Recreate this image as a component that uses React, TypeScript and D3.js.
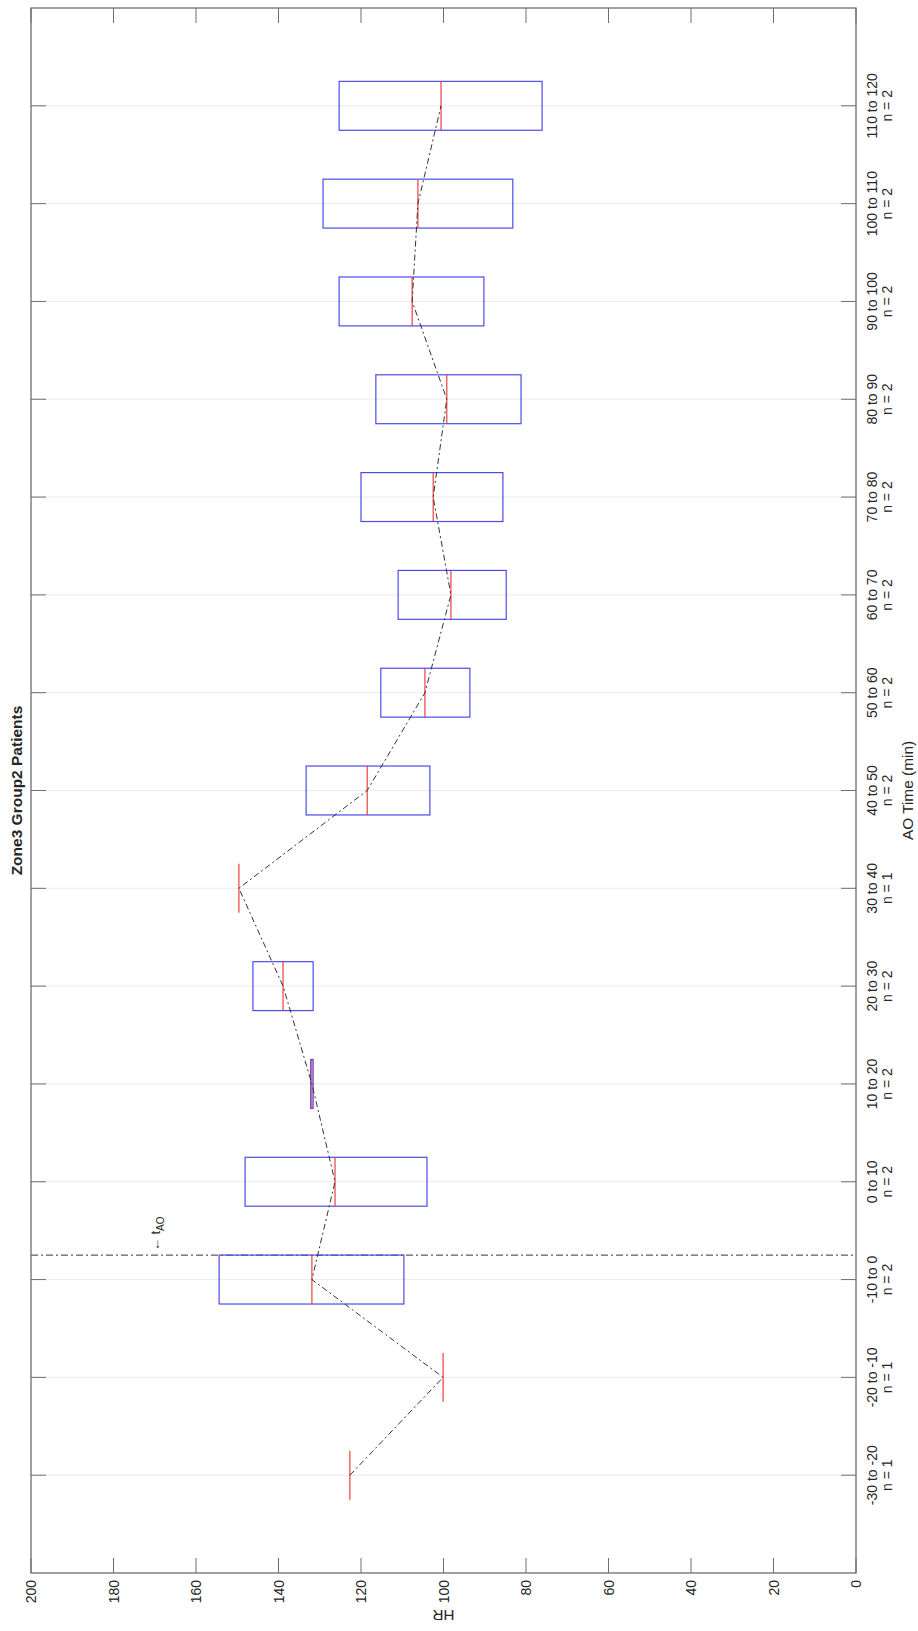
import React from "react";
import * as d3 from "d3";

// AO time bins (minutes) and sample counts
const categories = ["-30 to -20", "-20 to -10", "-10 to 0", "0 to 10", "10 to 20", "20 to 30", "30 to 40", "40 to 50", "50 to 60", "60 to 70", "70 to 80", "80 to 90", "90 to 100", "100 to 110", "110 to 120"];
const counts = [1, 1, 2, 2, 2, 2, 1, 2, 2, 2, 2, 2, 2, 2, 2];

// HR per bin: median and box edges (null where n = 1)
const medians = [122.7, 100.1, 131.9, 126.3, 131.9, 138.9, 149.6, 118.5, 104.5, 98.2, 102.5, 99.2, 107.6, 106.2, 100.6];
const q1 = [null, null, 109.6, 104.0, 131.6, 131.6, null, 103.3, 93.6, 84.8, 85.6, 81.2, 90.2, 83.2, 76.1];
const q3 = [null, null, 154.4, 148.1, 132.2, 146.2, null, 133.3, 115.2, 111.0, 120.0, 116.4, 125.3, 129.2, 125.3];

const hrTicks = [0, 20, 40, 60, 80, 100, 120, 140, 160, 180, 200];
const aoPosition = 3.25;
const aoLabelHR = 170;

const App = () => {
    // the figure is drawn upright, then turned a quarter turn to the left
    const W = 1631;
    const H = 918;
    const left = 58, right = 1623, top = 31, bottom = 856;

    const x = d3.scaleLinear().domain([0, 16]).range([left, right]);
    const y = d3.scaleLinear().domain([0, 200]).range([bottom, top]);
    const half = 0.25;
    const tickLen = 15;

    const line = d3.line<number>()
        .x((d, i) => x(i + 1))
        .y(d => y(d));

    const font = "'Liberation Sans', Arial, sans-serif";
    const textColor = "#262626";
    const axisColor = "#6e6e6e";

    return (
        <svg
            width={H}
            height={W}
            style={{ position: "absolute", left: 0, top: 0, background: "#fff" }}
            fontFamily={font}
        >
            <g transform={`translate(0, ${W}) rotate(-90)`}>
                {/* grid lines at each bin */}
                {categories.map((c, i) => (
                    <line key={"g" + i} x1={x(i + 1)} x2={x(i + 1)} y1={top} y2={bottom}
                        stroke="#ebebeb" strokeWidth={1} />
                ))}

                {/* AO marker */}
                <line x1={x(aoPosition)} x2={x(aoPosition)} y1={top} y2={bottom}
                    stroke="#333" strokeWidth={1} strokeDasharray="7,3,2,3" />
                <text x={x(aoPosition) + 4} y={y(aoLabelHR) + 5} fontSize={13} fill={textColor}>
                    ← t<tspan fontSize={10} dy={4}>AO</tspan>
                </text>

                {/* boxes */}
                {categories.map((c, i) => {
                    const lo = q1[i], hi = q3[i];
                    if (lo == null || hi == null) return null;
                    return (
                        <rect key={"b" + i}
                            x={x(i + 1 - half)} width={x(i + 1 + half) - x(i + 1 - half)}
                            y={y(hi)} height={Math.max(y(lo) - y(hi), 1)}
                            fill="none" stroke="#4b4bf0" strokeWidth={1.2} />
                    );
                })}

                {/* medians */}
                {medians.map((m, i) => (
                    <line key={"m" + i} x1={x(i + 1 - half)} x2={x(i + 1 + half)} y1={y(m)} y2={y(m)}
                        stroke="#e8302a" strokeWidth={1.1} />
                ))}

                {/* connecting line */}
                <path d={line(medians) || ""} fill="none" stroke="#333" strokeWidth={1}
                    strokeDasharray="6,3,2,3" />

                {/* axes box */}
                <rect x={left} y={top} width={right - left} height={bottom - top}
                    fill="none" stroke={axisColor} strokeWidth={1.3} />

                {/* bin ticks and labels */}
                {categories.map((c, i) => (
                    <g key={"t" + i}>
                        <line x1={x(i + 1)} x2={x(i + 1)} y1={bottom} y2={bottom - tickLen} stroke={axisColor} />
                        <line x1={x(i + 1)} x2={x(i + 1)} y1={top} y2={top + tickLen} stroke={axisColor} />
                        <text x={x(i + 1)} y={bottom + 21} textAnchor="middle" fontSize={14} fill={textColor}>{c}</text>
                        <text x={x(i + 1)} y={bottom + 36} textAnchor="middle" fontSize={14} fill={textColor}>{`n = ${counts[i]}`}</text>
                    </g>
                ))}

                {/* HR ticks and labels */}
                {hrTicks.map(t => (
                    <g key={"h" + t}>
                        <line x1={left} x2={left + tickLen} y1={y(t)} y2={y(t)} stroke={axisColor} />
                        <line x1={right} x2={right - tickLen} y1={y(t)} y2={y(t)} stroke={axisColor} />
                        <text x={left - 7} y={y(t) + 5} textAnchor="end" fontSize={14} fill={textColor}>{t}</text>
                    </g>
                ))}

                <text x={(left + right) / 2} y={22} textAnchor="middle" fontSize={15.5} fontWeight="bold" fill={textColor}>
                    Zone3 Group2 Patients
                </text>
                <text x={(left + right) / 2} y={913} textAnchor="middle" fontSize={15.4} fill={textColor}>
                    AO Time (min)
                </text>
                <text transform={`translate(21, ${(top + bottom) / 2}) rotate(-90)`} textAnchor="middle"
                    fontSize={15.4} fill={textColor}>HR</text>
            </g>
        </svg>
    );
};

export default App;
